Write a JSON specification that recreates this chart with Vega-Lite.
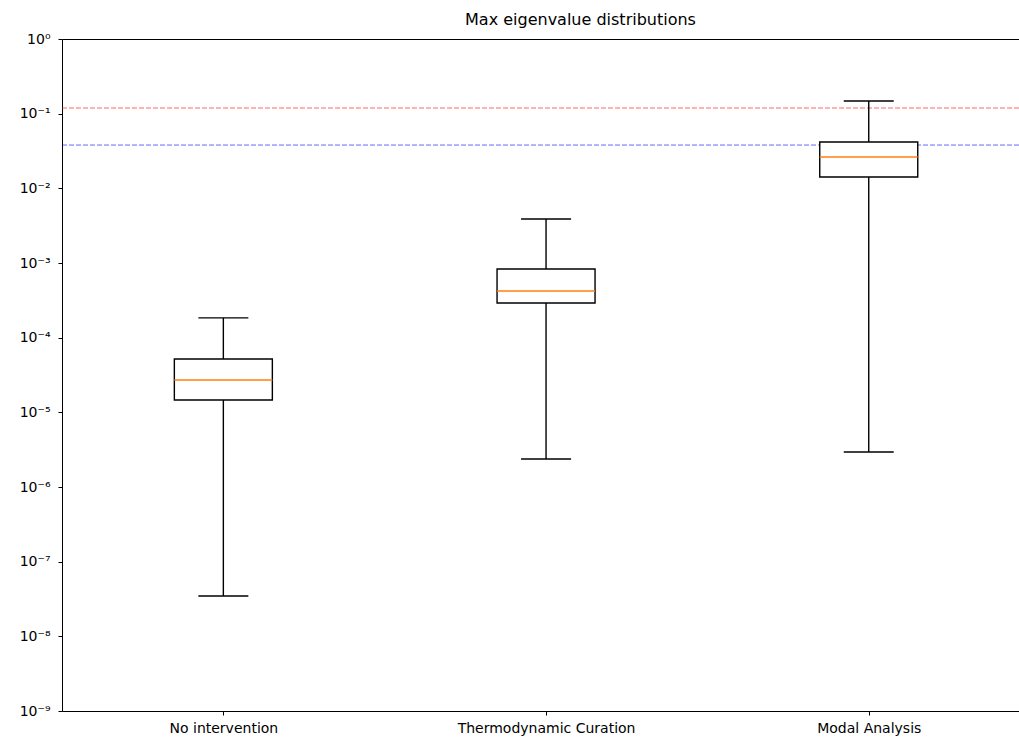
{
  "$schema": "https://vega.github.io/schema/vega-lite/v6.json",
  "autosize": "none",
  "width": 957,
  "height": 672,
  "padding": {"left": 62, "top": 39, "right": 0, "bottom": 29},
  "background": "white",
  "config": {
    "view": {"stroke": null},
    "font": "DejaVu Sans",
    "axis": {
      "labelFont": "DejaVu Sans",
      "labelFontSize": 14,
      "labelColor": "black",
      "domainColor": "black",
      "tickColor": "black",
      "domainWidth": 1,
      "tickWidth": 1,
      "tickSize": 4,
      "grid": false,
      "title": null
    }
  },
  "title": {
    "text": "Max eigenvalue distributions",
    "font": "DejaVu Sans",
    "fontSize": 16,
    "fontWeight": "normal",
    "color": "black",
    "anchor": "middle",
    "offset": 4,
    "dx": 40
  },
  "datasets": {
    "boxes": [
      {"group": "No intervention", "pos": 1, "min": 3.47e-8, "q1": 1.46e-5, "median": 2.71e-5, "q3": 5.18e-5, "max": 1.84e-4},
      {"group": "Thermodynamic Curation", "pos": 2, "min": 2.37e-6, "q1": 2.91e-4, "median": 4.22e-4, "q3": 8.3e-4, "max": 3.89e-3},
      {"group": "Modal Analysis", "pos": 3, "min": 2.94e-6, "q1": 0.0142, "median": 0.0263, "q3": 0.0418, "max": 0.148}
    ],
    "thresholds": [
      {"name": "upper", "value": 0.119},
      {"name": "lower", "value": 0.038}
    ]
  },
  "layer": [
    {
      "data": {"name": "thresholds"},
      "mark": {"type": "rule", "strokeDash": [5, 2], "strokeWidth": 1, "opacity": 0.6},
      "encoding": {
        "y": {"field": "value", "type": "quantitative", "scale": {"type": "log", "domain": [1e-9, 1], "nice": false, "padding": 0},
              "axis": {"values": [1e-9, 1e-8, 1e-7, 1e-6, 1e-5, 1e-4, 1e-3, 1e-2, 1e-1, 1],
                       "labelExpr": "datum.value >= 0.99 ? '10⁰' : '10⁻' + ['⁰','¹','²','³','⁴','⁵','⁶','⁷','⁸','⁹'][round(-log(datum.value)/LN10)]",
                       "labelPadding": 8}},
        "color": {"field": "name", "type": "nominal", "scale": {"domain": ["upper", "lower"], "range": ["#ff0000", "#0000ff"]}, "legend": null}
      }
    },
    {
      "data": {"name": "boxes"},
      "mark": {"type": "rule", "color": "black", "strokeWidth": 1.4},
      "encoding": {
        "x": {"field": "pos", "type": "quantitative", "scale": {"domain": [0.5, 3.4656], "nice": false, "zero": false, "padding": 0},
              "axis": {"orient": "top", "labels": false, "ticks": false, "domain": true}},
        "y": {"field": "q3", "type": "quantitative"},
        "y2": {"field": "max"}
      }
    },
    {
      "data": {"name": "boxes"},
      "mark": {"type": "rule", "color": "black", "strokeWidth": 1.4},
      "encoding": {
        "x": {"field": "pos", "type": "quantitative", "axis": null},
        "y": {"field": "min", "type": "quantitative"},
        "y2": {"field": "q1"}
      }
    },
    {
      "data": {"name": "boxes"},
      "mark": {"type": "bar", "orient": "vertical", "size": 98, "fill": "white", "stroke": "black", "strokeWidth": 1.4},
      "encoding": {
        "x": {"field": "pos", "type": "quantitative",
              "axis": {"orient": "bottom", "values": [1, 2, 3], "labelExpr": "datum.value == 1 ? 'No intervention' : datum.value == 2 ? 'Thermodynamic Curation' : 'Modal Analysis'", "labelPadding": 6}},
        "y": {"field": "q1", "type": "quantitative"},
        "y2": {"field": "q3"}
      }
    },
    {
      "data": {"name": "boxes"},
      "mark": {"type": "tick", "orient": "horizontal", "size": 50, "thickness": 1.4, "color": "black", "opacity": 1},
      "encoding": {
        "x": {"field": "pos", "type": "quantitative", "axis": null},
        "y": {"field": "max", "type": "quantitative"}
      }
    },
    {
      "data": {"name": "boxes"},
      "mark": {"type": "tick", "orient": "horizontal", "size": 50, "thickness": 1.4, "color": "black", "opacity": 1},
      "encoding": {
        "x": {"field": "pos", "type": "quantitative", "axis": null},
        "y": {"field": "min", "type": "quantitative"}
      }
    },
    {
      "data": {"name": "boxes"},
      "mark": {"type": "tick", "orient": "horizontal", "size": 98, "thickness": 1.4, "color": "#ff7f0e", "opacity": 1},
      "encoding": {
        "x": {"field": "pos", "type": "quantitative", "axis": null},
        "y": {"field": "median", "type": "quantitative"}
      }
    }
  ]
}
